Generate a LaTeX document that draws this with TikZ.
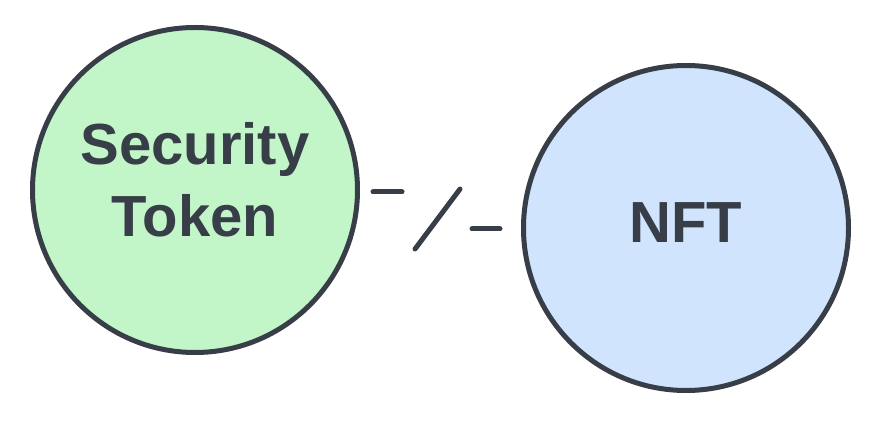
\documentclass[tikz,border=0pt]{standalone}
\usepackage{fontspec}
\setmainfont{Liberation Sans}
\usetikzlibrary{positioning}
\definecolor{encre}{RGB}{56,62,72}
\definecolor{vert}{RGB}{194,245,200}
\definecolor{bleu}{RGB}{209,228,254}

\begin{document}
\begin{tikzpicture}[x=1pt, y=1pt, line cap=round,
    rond/.style={circle, draw=encre, line width=5pt, minimum size=325pt, inner sep=0pt},
    txt/.style={text=encre, font=\bfseries\fontsize{58}{72}\selectfont, align=center},
    trait/.style={draw=encre, line width=5pt}]
    \useasboundingbox (0,0) rectangle (887,431);

    % Les deux cercles
    \node[rond, fill=vert] (ST) at (195,241) {};
    \node[rond, fill=bleu] (NFT) at (686,203) {};

    % Textes
    \node[txt] (STt) at (195,251) {Security\\Token};
    \node[txt] (NFTt) at (686,208) {NFT};

    % Liaison barree
    \coordinate (a1) at (373,239);
    \coordinate (a2) at (402,239);
    \coordinate (b1) at (415,182);
    \coordinate (b2) at (460,242);
    \coordinate (c1) at (472,202);
    \coordinate (c2) at (500,202);
    \draw[trait] (a1) -- (a2);
    \draw[trait] (b1) -- (b2);
    \draw[trait] (c1) -- (c2);
\end{tikzpicture}
\end{document}
